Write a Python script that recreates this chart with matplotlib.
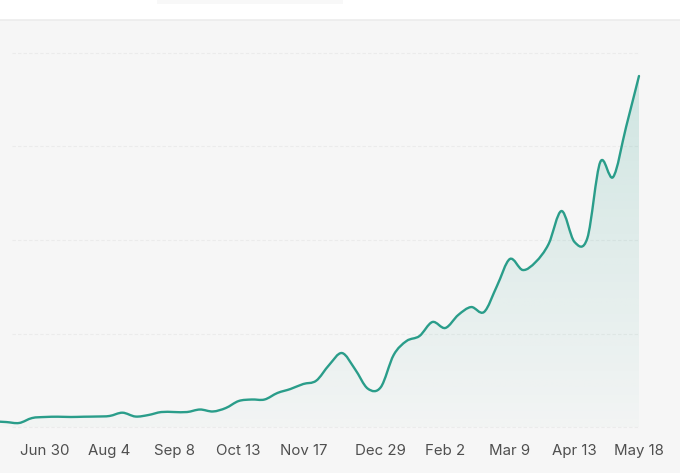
import numpy as np
import pandas as pd
import matplotlib
matplotlib.use("Agg")
import matplotlib.pyplot as plt
import matplotlib.dates as mdates
from matplotlib.path import Path
from matplotlib.patches import PathPatch, Rectangle
from matplotlib.transforms import blended_transform_factory

# ---- data (weekly, ending May 18) ----
end_date = "2023-05-18"
values = [6.0, 5.3, 4.3, 9.6, 10.7, 11.0, 10.7, 11.0, 11.2, 11.8, 15.3,
          11.2, 12.8, 16.0, 16.0, 16.0, 18.7, 16.6, 20.3, 27.8, 29.4,
          29.4, 36.4, 40.6, 46.0, 49.5, 66.3, 79.1, 62.0, 41.0, 42.5,
          77.0, 92.0, 97.3, 112.3, 105.9, 119.8, 128.3, 123.0, 150.8, 179.7,
          167.9, 176.5, 195.7, 231.0, 198.0, 202.0, 283.4, 267.4, 320.9, 375.4]
dates = pd.date_range(end=end_date, periods=len(values), freq="7D")

tick_dates = ["2022-06-30", "2022-08-04", "2022-09-08", "2022-10-13", "2022-11-17",
              "2022-12-29", "2023-02-02", "2023-03-09", "2023-04-13", "2023-05-18"]
tick_labels = ["Jun 30", "Aug 4", "Sep 8", "Oct 13", "Nov 17",
               "Dec 29", "Feb 2", "Mar 9", "Apr 13", "May 18"]
grid_values = [0, 100, 200, 300, 400]

# ---- figure ----
W, H = 680, 473
fig = plt.figure(figsize=(W / 100, H / 100), dpi=100, facecolor="white")
ax = fig.add_axes([0, 0, 1, 453 / H])
ax.set_facecolor("#f6f6f6")
for s in ax.spines.values():
    s.set_visible(False)
ax.set_xticks([])
ax.set_yticks([])

xd = mdates.date2num(dates.to_pydatetime())
yv = np.asarray(values, dtype=float)
x_end = mdates.date2num(pd.Timestamp(end_date).to_pydatetime())
px_per_day = 1.8447
ax.set_xlim(x_end - 639 / px_per_day, x_end + 41 / px_per_day)
ax.set_ylim((427 - 473) / 0.935, (427 - 20) / 0.935)

# gridlines
x_grid0 = x_end - (639 - 12) / px_per_day
for g in grid_values:
    ax.plot([x_grid0, x_end], [g, g], color="#ebebeb", lw=0.8,
            ls=(0, (3, 2)), zorder=1)

# smooth path through weekly points (Catmull-Rom as cubic Bezier)
pts = np.column_stack([xd, yv])
verts = [tuple(pts[0])]
codes = [Path.MOVETO]
n = len(pts)
for i in range(n - 1):
    p0 = pts[i - 1] if i > 0 else pts[i]
    p1 = pts[i]
    p2 = pts[i + 1]
    p3 = pts[i + 2] if i + 2 < n else pts[i + 1]
    c1 = p1 + (p2 - p0) / 6.0
    c2 = p2 - (p3 - p1) / 6.0
    verts += [tuple(c1), tuple(c2), tuple(p2)]
    codes += [Path.CURVE4] * 3

line_path = Path(verts, codes)
fill_verts = verts + [(xd[-1], 0), (xd[0], 0), verts[0]]
fill_codes = codes + [Path.LINETO, Path.LINETO, Path.CLOSEPOLY]
fill_path = Path(fill_verts, fill_codes)

# gradient fill
teal = np.array([42, 157, 138]) / 255.0
ny = 256
alpha = np.linspace(0.02, 0.19, ny)[:, None]
grad = np.zeros((ny, 2, 4))
grad[..., :3] = teal
grad[..., 3] = alpha
im = ax.imshow(grad, extent=[xd[0], xd[-1], 0, max(values)], origin="lower",
               aspect="auto", zorder=2, interpolation="bilinear")
clip = PathPatch(fill_path, transform=ax.transData, facecolor="none", edgecolor="none")
ax.add_patch(clip)
im.set_clip_path(clip)

ax.add_patch(PathPatch(line_path, facecolor="none", edgecolor="#2a9d8a",
                       lw=1.7, zorder=4, capstyle="round", joinstyle="round"))

# x labels
tr = blended_transform_factory(ax.transData, ax.transAxes)
for d, lab in zip(tick_dates, tick_labels):
    ax.text(mdates.date2num(pd.Timestamp(d).to_pydatetime()), 18 / 453, lab,
            transform=tr, ha="center", va="baseline", fontsize=10.8,
            family=["Inter", "DejaVu Sans"], color="#4f4f4f")

# top decorations
fig.add_artist(plt.Line2D([0, 1], [453 / H, 453 / H], color="#ececec", lw=1.2,
                          transform=fig.transFigure))
fig.add_artist(Rectangle((157 / W, 1 - 4 / H), (343 - 157) / W, 4 / H,
                         transform=fig.transFigure, facecolor="#f8f8f8",
                         edgecolor="none"))

fig.savefig("out.png", dpi=100, facecolor="white")
